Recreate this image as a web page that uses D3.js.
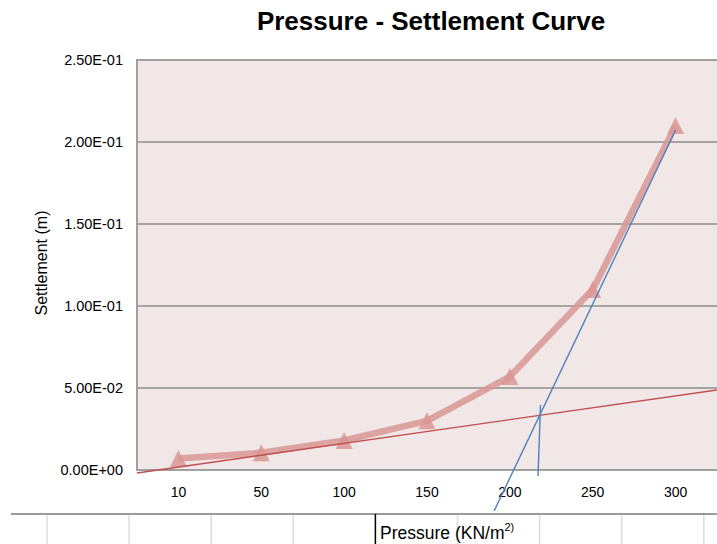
<!DOCTYPE html>
<html>
<head>
<meta charset="utf-8">
<script src="https://cdn.jsdelivr.net/npm/d3@7"></script>
<style>
  html, body { margin: 0; padding: 0; background: #ffffff; }
  svg { display: block; }
</style>
</head>
<body>
<svg id="chart" width="717" height="544"></svg>
<script>
// ---------------- data ----------------
const categories = ["10", "50", "100", "150", "200", "250", "300"];
const settlement = [0.007, 0.0105, 0.018, 0.030, 0.057, 0.110, 0.210];
const yTicks = [0, 0.05, 0.10, 0.15, 0.20, 0.25];
const yTickLabels = ["0.00E+00", "5.00E-02", "1.00E-01", "1.50E-01", "2.00E-01", "2.50E-01"];
// hand-drawn construction lines: [category index, settlement]
const tangentInitial = [[-0.5, -0.0018], [6.5, 0.0488]];
const tangentFinal = [[6.0, 0.2073], [3.81, -0.025]];
const dropLine = [[4.37, 0.0396], [4.34, -0.0037]];

const titleText = "Pressure - Settlement Curve";
const yTitleText = "Settlement (m)";
const xTitleText = "Pressure (KN/m";
const xTitleSup = "2)";

// ---------------- layout ----------------
const W = 717, H = 544;
const plot = { left: 137, top: 60, right: 717, bottom: 470 };
const svg = d3.select("#chart");

const x = d3.scaleBand().domain(categories).range([plot.left, plot.right]).padding(0);
const xIdx = d3.scaleLinear()
  .domain([0, categories.length - 1])
  .range([x(categories[0]) + x.bandwidth() / 2, x(categories[categories.length - 1]) + x.bandwidth() / 2]);
const y = d3.scaleLinear().domain([0, 0.25]).range([plot.bottom, plot.top]);

// title
svg.append("text")
  .attr("x", 431).attr("y", 30)
  .attr("text-anchor", "middle")
  .style("font-family", "'Liberation Sans', Arial, sans-serif")
  .style("font-weight", "bold")
  .style("font-size", "26px")
  .attr("fill", "#000")
  .text(titleText);

// plot background
svg.append("rect")
  .attr("x", plot.left).attr("y", plot.top)
  .attr("width", W - plot.left + 10).attr("height", plot.bottom - plot.top)
  .attr("fill", "#f2e7e7");

// gridlines
svg.append("g")
  .selectAll("line")
  .data(yTicks.filter(d => d > 0 && d < 0.25))
  .join("line")
  .attr("x1", plot.left).attr("x2", W + 5)
  .attr("y1", d => y(d)).attr("y2", d => y(d))
  .attr("stroke", "#8e8e8e").attr("stroke-width", 1.5);

// plot border
svg.append("rect")
  .attr("x", plot.left).attr("y", plot.top)
  .attr("width", W - plot.left + 10).attr("height", plot.bottom - plot.top)
  .attr("fill", "none")
  .attr("stroke", "#a0a0a0").attr("stroke-width", 2);

// y axis
const yAxis = d3.axisLeft(y)
  .tickValues(yTicks)
  .tickFormat((d, i) => yTickLabels[i])
  .tickSize(0).tickPadding(14);
const gy = svg.append("g").attr("transform", `translate(${plot.left},0)`).call(yAxis);
gy.select(".domain").remove();
gy.selectAll("text")
  .style("font-family", "'Liberation Sans', Arial, sans-serif")
  .style("font-size", "14.5px")
  .attr("fill", "#000");

// x axis
const xAxis = d3.axisBottom(x).tickSize(0).tickPadding(17);
const gx = svg.append("g").attr("transform", `translate(0,${plot.bottom})`).call(xAxis);
gx.select(".domain").remove();
gx.selectAll("text")
  .style("font-family", "'Liberation Sans', Arial, sans-serif")
  .style("font-size", "14px")
  .attr("fill", "#000");

// y title
svg.append("text")
  .attr("transform", `translate(41,263) rotate(-90)`)
  .attr("text-anchor", "middle")
  .attr("dominant-baseline", "central")
  .style("font-family", "'Liberation Sans', Arial, sans-serif")
  .style("font-size", "16px")
  .attr("fill", "#000")
  .text(yTitleText);

// series line
const pts = categories.map((c, i) => [x(c) + x.bandwidth() / 2, y(settlement[i])]);
svg.append("path")
  .attr("d", d3.line()(pts))
  .attr("fill", "none")
  .attr("stroke", "#d99694")
  .attr("stroke-opacity", 0.85)
  .attr("stroke-width", 6.5)
  .attr("stroke-linejoin", "round");

// triangle markers (box-centred like the spreadsheet marker)
const boxTriangle = {
  draw(ctx, size) {
    const h = Math.sqrt(size) / 2;
    ctx.moveTo(0, -h);
    ctx.lineTo(h, h);
    ctx.lineTo(-h, h);
    ctx.closePath();
  }
};
svg.append("g")
  .selectAll("path")
  .data(pts)
  .join("path")
  .attr("transform", d => `translate(${d[0]},${d[1]})`)
  .attr("d", d3.symbol().type(boxTriangle).size(17 * 17))
  .attr("fill", "#d99694")
  .attr("fill-opacity", 0.85);

// construction lines
const lineGen = d3.line().x(d => xIdx(d[0])).y(d => y(d[1]));
svg.append("path").attr("d", lineGen(tangentInitial))
  .attr("fill", "none").attr("stroke", "#c0504d").attr("stroke-width", 1.4);
svg.append("path").attr("d", lineGen(tangentFinal))
  .attr("fill", "none").attr("stroke", "#4f81bd").attr("stroke-width", 1.4);
svg.append("path").attr("d", lineGen(dropLine))
  .attr("fill", "none").attr("stroke", "#4f81bd").attr("stroke-width", 1.4);

// spreadsheet grid underneath the chart
const sheetTop = 514;
const colStart = 47, colStep = 82.1;
const cols = d3.range(0, 9).map(i => colStart + i * colStep);
svg.append("g").selectAll("line")
  .data(cols.filter((c, i) => i !== 4))
  .join("line")
  .attr("x1", d => d).attr("x2", d => d)
  .attr("y1", sheetTop).attr("y2", H)
  .attr("stroke", "#dcdcdc").attr("stroke-width", 1.5);
svg.append("line")
  .attr("x1", 11).attr("x2", W).attr("y1", sheetTop).attr("y2", sheetTop)
  .attr("stroke", "#9a9a9a").attr("stroke-width", 2);
svg.append("line")
  .attr("x1", cols[4]).attr("x2", cols[4]).attr("y1", sheetTop).attr("y2", H)
  .attr("stroke", "#000").attr("stroke-width", 1.5);

// x title (sits in the sheet cell)
const xt = svg.append("text")
  .attr("x", 380).attr("y", 539)
  .style("font-family", "'Liberation Sans', Arial, sans-serif")
  .style("font-size", "17.5px")
  .attr("fill", "#000");
xt.append("tspan").text(xTitleText);
xt.append("tspan").attr("dy", -8).style("font-size", "11px").text(xTitleSup);
</script>
</body>
</html>
